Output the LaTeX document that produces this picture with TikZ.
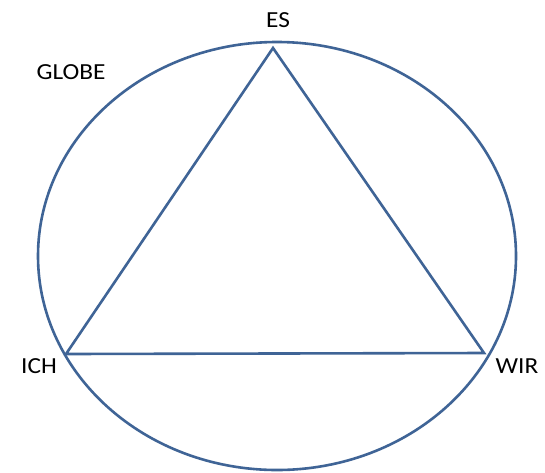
\documentclass[tikz,border=0pt]{standalone}
\usepackage{fontspec}
\setmainfont{Carlito}
\usetikzlibrary{shapes.geometric}
\definecolor{lineblue}{HTML}{3F6496}
\begin{document}
\begin{tikzpicture}[x=1pt,y=-1pt,
  shape line/.style={draw=lineblue,line width=2.6pt,line join=miter},
  lbl/.style={font=\fontsize{23}{27}\selectfont,inner sep=0pt,xscale=1.1,transform shape}]
\useasboundingbox[fill=white] (0,0) rectangle (545,472);
\node[draw=lineblue,line width=2.6pt,ellipse,minimum width=478pt,minimum height=428pt,inner sep=0pt] (globe) at (277,256) {};
\coordinate (es) at (273,48);
\coordinate (ich) at (66,354);
\coordinate (wir) at (484,353);
\draw[shape line] (es) -- (ich) -- (wir) -- cycle;
\node[lbl] (tes) at (278,20) {ES};
\node[lbl] (tglobe) at (71,72) {GLOBE};
\node[lbl] (tich) at (39,366.5) {ICH};
\node[lbl] (twir) at (517,366.5) {WIR};
\end{tikzpicture}
\end{document}
